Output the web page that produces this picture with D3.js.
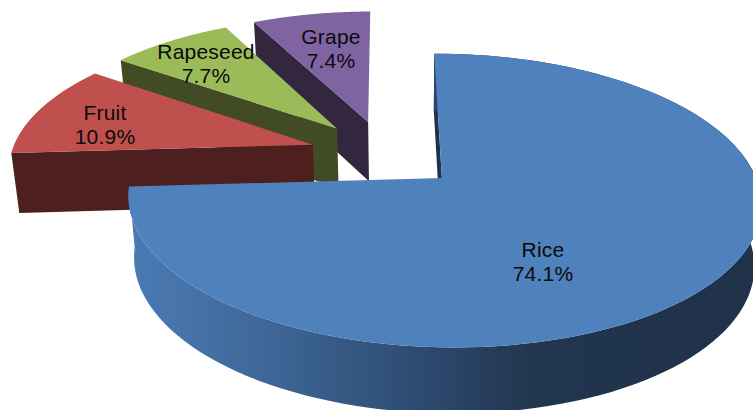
<!DOCTYPE html>
<html><head><meta charset="utf-8">
<script src="https://cdn.jsdelivr.net/npm/d3@7/dist/d3.min.js"></script>
<style>html,body{margin:0;padding:0;background:#fff;overflow:hidden}svg{display:block}
text{font-family:"Liberation Sans",Arial,sans-serif;font-size:21px;letter-spacing:.2px;fill:#0a0a0a;text-anchor:middle}</style>
</head><body><div id="chart"></div>
<script>
const categories = ["Rice","Fruit","Rapeseed","Grape"];
const shares = [74.1,10.9,7.7,7.4];
const topColors = ["#4f81bd","#c0504d","#9bbb59","#8064a2"];
const sideColors = ["#1f3249","#4d1f1f","#414c24","#33263f"];
const labelAnchors = [[543,257],[105,120],[206,59],[331,44]];

const W=753,H=410;
const cam={cx:385,cy:154,rx:304,ry:136,k:.15,m:-.005,explode:.25,depth:60,vx:410,conv:.98};
function proj(u,v){const d=1+cam.k*v+cam.m*u;return [cam.cx+cam.rx*u/d,cam.cy-cam.ry*v/d];}
function drop(p){return [cam.vx+(p[0]-cam.vx)*cam.conv,p[1]+cam.depth+(p[1]-150)*.03];}

const svg=d3.select("#chart").append("svg").attr("width",W).attr("height",H);
const defs=svg.append("defs");
const grad=defs.append("linearGradient").attr("id","rim").attr("gradientUnits","userSpaceOnUse")
  .attr("x1",128).attr("x2",753).attr("y1",0).attr("y2",0);
[[0,"#4a7bb5"],[.2,"#40699a"],[.43,"#2f4f77"],[.65,"#21354e"],[1,"#1f3249"]].forEach(s=>grad.append("stop").attr("offset",s[0]).attr("stop-color",s[1]));

const arcs=d3.pie().sort(null).value(d=>d)(shares);
const line=d3.line();
const order=d3.range(categories.length).reverse();
order.forEach(i=>{
  const a=arcs[i],mid=(a.startAngle+a.endAngle)/2;
  const ou=cam.explode*Math.sin(mid),ov=cam.explode*Math.cos(mid);
  const pt=t=>proj(ou+Math.sin(t),ov+Math.cos(t));
  const apex=proj(ou,ov);
  const rim=d3.range(0,121).map(j=>pt(a.startAngle+(a.endAngle-a.startAngle)*j/120));
  const g=svg.append("g");
  const s=rim[0];
  g.append("path").attr("d",line([apex,s,drop(s),drop(apex)])+"Z").attr("fill",sideColors[i]);
  if(i===0){
    g.append("path").attr("d",line(rim.concat(rim.map(drop).reverse()))+"Z").attr("fill","url(#rim)");
  }
  g.append("path").attr("d",line([apex].concat(rim))+"Z").attr("fill",topColors[i]);
});
categories.forEach((c,i)=>{
  const [x,y]=labelAnchors[i];
  svg.append("text").attr("x",x).attr("y",y).text(c);
  svg.append("text").attr("x",x).attr("y",y+24).text(shares[i].toFixed(1)+"%");
});
</script></body></html>
